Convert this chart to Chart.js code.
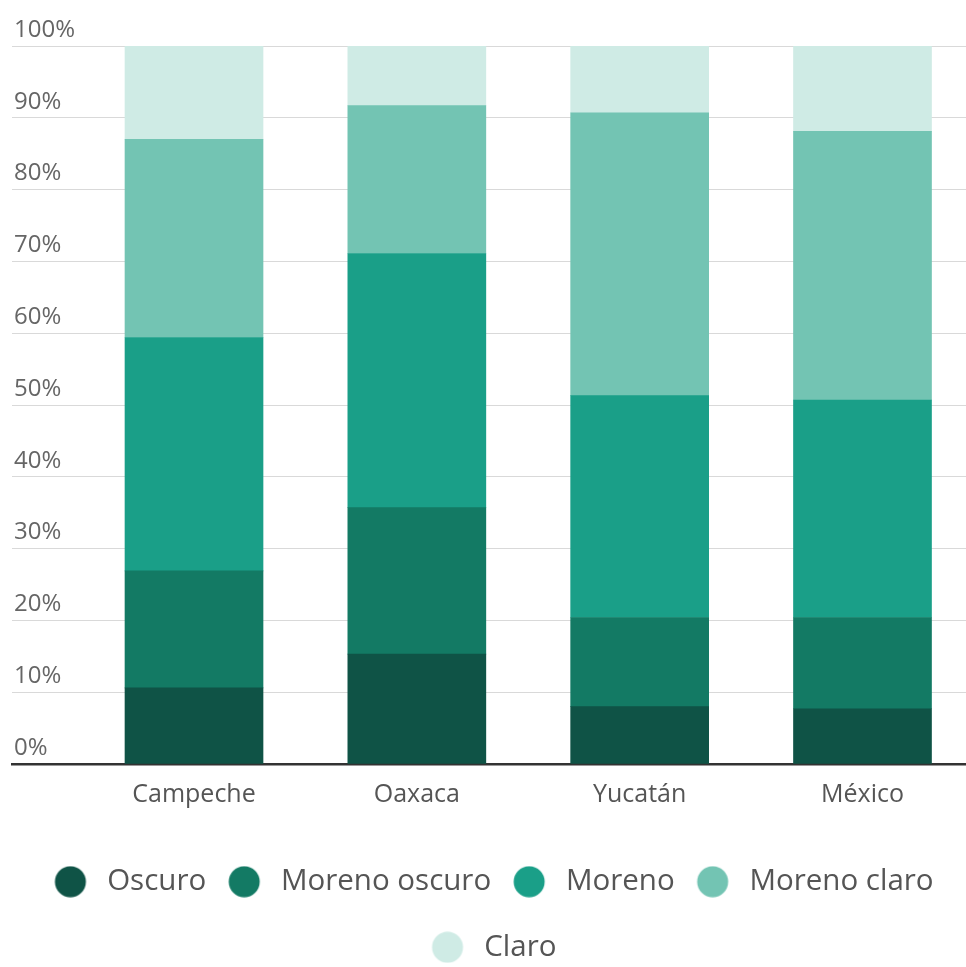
<!DOCTYPE html>
<html>
<head>
<meta charset="utf-8">
<script src="https://cdn.jsdelivr.net/npm/chart.js"></script>
<style>
  html, body { margin: 0; padding: 0; background: #fff; }
  #wrap { width: 966px; height: 967px; }
</style>
</head>
<body>
<div id="wrap"><canvas id="chart" width="966" height="967"></canvas></div>
<script>
// Categories and series (percent of each state's population)
const categories = ['Campeche', 'Oaxaca', 'Yucatán', 'México'];
const seriesNames = ['Oscuro', 'Moreno oscuro', 'Moreno', 'Moreno claro', 'Claro'];
const oscuro       = [10.6, 15.3, 8.0, 7.7];
const morenoOscuro = [16.3, 20.4, 12.4, 12.7];
const moreno       = [32.5, 35.4, 30.9, 30.3];
const morenoClaro  = [27.6, 20.6, 39.4, 37.4];
const claro        = [13.0, 8.3, 9.3, 11.9];
const yTicks = [0, 10, 20, 30, 40, 50, 60, 70, 80, 90, 100];

const colors = ['#0f5346', '#137a64', '#1a9f88', '#73c4b3', '#cfebe5'];
const font = "'Open Sans', 'Noto Sans', sans-serif";

// legend dot drawn a bit left of the image centre so the text gap matches
function dot(color) {
    const c = document.createElement('canvas');
    c.width = 54; c.height = 32;
    const g = c.getContext('2d');
    g.fillStyle = color;
    g.beginPath();
    g.arc(17, 16, 15.5, 0, Math.PI * 2);
    g.fill();
    return c;
}

// the reference legend sits a little right of centre
const legendShift = {
    id: 'legendShift',
    afterLayout(chart) {
        chart.legend.left += 12;
        chart.legend.right += 12;
    }
};

const values = [oscuro, morenoOscuro, moreno, morenoClaro, claro];
const datasets = seriesNames.map((name, s) => ({
    label: name,
    data: values[s].map((v, i) => ({ x: i, y: v })),
    backgroundColor: colors[s],
    borderWidth: 0,
    barThickness: 138,
    pointStyle: dot(colors[s])
}));

new Chart(document.getElementById('chart'), {
    type: 'bar',
    data: { datasets },
    plugins: [legendShift],
    options: {
        responsive: false,
        animation: false,
        layout: { padding: { top: 46, left: 0, right: 0, bottom: -5 } },
        plugins: {
            tooltip: { enabled: false },
            legend: {
                position: 'bottom',
                fullSize: false,
                labels: {
                    usePointStyle: true,
                    pointStyleWidth: 24,
                    padding: 36,
                    color: '#555',
                    font: { family: font, size: 29.5 }
                }
            }
        },
        scales: {
            x: {
                type: 'linear',
                stacked: true,
                offset: false,
                min: -0.8168,
                max: 3.4645,
                grid: { display: false },
                border: { display: true, color: '#333', width: 2.5 },
                afterBuildTicks: (scale) => { scale.ticks = categories.map((c, i) => ({ value: i })); },
                afterFit: (scale) => { scale.height = 67; },
                ticks: {
                    autoSkip: false,
                    maxRotation: 0,
                    padding: 8,
                    color: '#555',
                    font: { family: font, size: 25 },
                    callback: (v) => categories[v] ?? ''
                }
            },
            y: {
                stacked: true,
                min: 0,
                max: 100,
                grid: { color: '#d9d9d9', lineWidth: 1, drawTicks: false },
                border: { display: false },
                afterBuildTicks: (scale) => { scale.ticks = yTicks.map(v => ({ value: v })); },
                afterFit: (scale) => { scale.width = 12; },
                ticks: {
                    mirror: true,
                    padding: 2,
                    labelOffset: -16,
                    color: '#666',
                    font: { family: font, size: 24 },
                    callback: (v) => v + '%'
                }
            }
        }
    }
});
</script>
</body>
</html>
